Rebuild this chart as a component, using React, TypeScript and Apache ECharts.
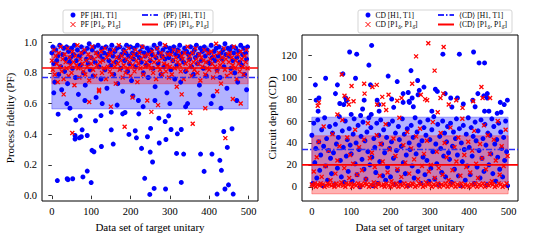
import React, { useEffect, useRef } from "react";
import * as echarts from "echarts";

// ---------- axes ----------
const X_TICKS = [0, 100, 200, 300, 400, 500];
const PF_TICKS = [0, 0.2, 0.4, 0.6, 0.8, 1.0];
const CD_TICKS = [0, 20, 40, 60, 80, 100, 120];
const X_RANGE = [-25, 524];
const PF_RANGE = [-0.035, 1.047];
const CD_RANGE = [-13, 138.5];
const DATASET_FIRST = 0;
const DATASET_LAST = 499;
const DENSE_STEP = 2.5; // data-set index spacing of the dense samples

// ---------- summary statistics (mean, std) ----------
const MEAN_PF = [0.77, 0.832];
const STD_PF = [0.205, 0.103];
const MEAN_CD = [34, 20];
const STD_CD = [29.5, 26.5];

// ---------- PF [H1, T1] ----------
const pfH1Dense = [
  0.93, 0.97, 0.86, 0.74, 0.95, 0.88, 0.91, 0.79, 0.98, 0.84, 0.69, 0.92, 0.96, 0.81, 0.89, 0.97, 0.73, 0.94, 0.87, 0.9,
  0.96, 0.83, 0.92, 0.98, 0.77, 0.88, 0.95, 0.66, 0.91, 0.85, 0.97, 0.93, 0.8, 0.94, 0.72, 0.89, 0.96, 0.86, 0.99, 0.82,
  0.9, 0.95, 0.78, 0.97, 0.87, 0.64, 0.93, 0.98, 0.84, 0.91, 0.76, 0.96, 0.89, 0.93, 0.82, 0.97, 0.7, 0.92, 0.88, 0.95,
  0.85, 0.98, 0.91, 0.79, 0.94, 0.87, 0.96, 0.73, 0.9, 0.97, 0.83, 0.92, 0.68, 0.95, 0.88, 0.93, 0.98, 0.81, 0.91, 0.86,
  0.97, 0.75, 0.93, 0.89, 0.96, 0.84, 0.92, 0.98, 0.62, 0.9, 0.94, 0.87, 0.97, 0.8, 0.93, 0.91, 0.85, 0.96, 0.77, 0.94,
  0.88, 0.95, 0.92, 0.83, 0.98, 0.71, 0.9, 0.96, 0.86, 0.93, 0.99, 0.79, 0.91, 0.95, 0.84, 0.89, 0.97, 0.67, 0.93, 0.9,
  0.96, 0.82, 0.94, 0.88, 0.97, 0.76, 0.92, 0.85, 0.95, 0.91, 0.98, 0.74, 0.89, 0.93, 0.87, 0.96, 0.81, 0.94, 0.6, 0.92,
  0.89, 0.97, 0.84, 0.93, 0.79, 0.95, 0.9, 0.98, 0.86, 0.92, 0.72, 0.96, 0.88, 0.94, 0.83, 0.97, 0.91, 0.78, 0.95, 0.87,
  0.93, 0.86, 0.98, 0.9, 0.65, 0.94, 0.88, 0.96, 0.82, 0.91, 0.97, 0.77, 0.93, 0.89, 0.95, 0.84, 0.99, 0.92, 0.7, 0.96,
  0.91, 0.95, 0.83, 0.97, 0.88, 0.93, 0.8, 0.96, 0.9, 0.74, 0.94, 0.87, 0.98, 0.85, 0.92, 0.96, 0.79, 0.93, 0.89, 0.97,
];
const pfH1Sparse = [
  [5, 0.67], [14, 0.098], [16, 0.531], [38, 0.6], [39, 0.11], [41, 0.104], [46, 0.57], [53, 0.11], [59, 0.392], [59, 0.369],
  [61, 0.492], [70, 0.377], [72, 0.518], [75, 0.384], [77, 0.429], [79, 0.122], [84, 0.62], [90, 0.392], [90, 0.16], [100, 0.085],
  [102, 0.295], [107, 0.286], [111, 0.488], [125, 0.522], [126, 0.32], [128, 0.6], [151, 0.544], [151, 0.429], [156, 0.336], [166, 0.59],
  [180, 0.533], [186, 0.542], [196, 0.399], [206, 0.65], [212, 0.423], [215, 0.377], [221, 0.533], [228, 0.308], [232, 0.58], [236, 0.113],
  [243, 0.384], [249, 0.008], [250, 0.284], [251, 0.438], [256, 0.219], [260, 0.047], [262, 0.62], [272, 0.505], [273, 0.343], [288, 0.483],
  [289, 0.043], [290, 0.366], [297, 0.52], [300, 0.6], [303, 0.431], [317, 0.275], [319, 0.403], [329, 0.431], [329, 0.086], [335, 0.271],
  [340, 0.58], [376, 0.66], [378, 0.271], [387, 0.158], [405, 0.6], [407, 0.271], [420, 0.01], [427, 0.23], [430, 0.57], [431, 0.165],
  [437, 0.418], [440, 0.043], [446, 0.314], [449, 0.07], [458, 0.436], [461, 0.01], [470, 0.62], [495, 0.69],
];

// ---------- PF [P1δ, P1δ̄] ----------
const pfP1Dense = [
  0.88, 0.82, 0.95, 0.79, 0.91, 0.86, 0.74, 0.93, 0.84, 0.97, 0.81, 0.89, 0.76, 0.92, 0.87, 0.83, 0.96, 0.78, 0.9, 0.85,
  0.8, 0.94, 0.87, 0.72, 0.91, 0.85, 0.98, 0.83, 0.77, 0.89, 0.93, 0.86, 0.81, 0.95, 0.79, 0.88, 0.84, 0.92, 0.75, 0.9,
  0.86, 0.97, 0.82, 0.89, 0.78, 0.93, 0.85, 0.91, 0.68, 0.87, 0.94, 0.8, 0.88, 0.83, 0.96, 0.76, 0.9, 0.84, 0.92, 0.81,
  0.93, 0.79, 0.87, 0.95, 0.84, 0.73, 0.9, 0.86, 0.98, 0.82, 0.88, 0.91, 0.77, 0.85, 0.94, 0.8, 0.89, 0.83, 0.96, 0.87,
  0.78, 0.9, 0.85, 0.92, 0.81, 0.95, 0.88, 0.74, 0.86, 0.93, 0.83, 0.89, 0.97, 0.79, 0.91, 0.84, 0.87, 0.62, 0.92, 0.85,
  0.89, 0.83, 0.94, 0.8, 0.87, 0.91, 0.76, 0.96, 0.84, 0.88, 0.82, 0.93, 0.79, 0.9, 0.86, 0.98, 0.81, 0.85, 0.92, 0.77,
  0.84, 0.92, 0.79, 0.88, 0.95, 0.83, 0.9, 0.71, 0.87, 0.94, 0.85, 0.81, 0.91, 0.89, 0.76, 0.93, 0.86, 0.82, 0.97, 0.88,
  0.91, 0.85, 0.78, 0.93, 0.87, 0.82, 0.96, 0.89, 0.8, 0.86, 0.92, 0.75, 0.9, 0.84, 0.88, 0.95, 0.79, 0.87, 0.83, 0.93,
  0.82, 0.89, 0.94, 0.86, 0.77, 0.91, 0.84, 0.99, 0.81, 0.88, 0.93, 0.85, 0.73, 0.9, 0.87, 0.96, 0.82, 0.89, 0.78, 0.92,
  0.87, 0.93, 0.8, 0.9, 0.85, 0.97, 0.83, 0.88, 0.76, 0.92, 0.86, 0.81, 0.94, 0.89, 0.84, 0.79, 0.91, 0.87, 0.95, 0.83,
];
const pfP1Sparse = [
  [30, 0.66], [52, 0.408], [95, 0.61], [120, 0.69], [150, 0.58], [185, 0.449], [205, 0.64], [253, 0.546], [270, 0.59],
  [330, 0.66], [352, 0.54], [358, 0.468], [390, 0.57], [420, 0.68], [441, 0.375], [460, 0.63], [480, 0.6],
];

// ---------- CD [H1, T1] ----------
const cdH1Dense = [
  47, 3, 58, 22, 35, 8, 61, 41, 15, 29, 52, 1, 37, 63, 19, 44, 6, 33, 55, 26,
  12, 49, 31, 2, 57, 39, 17, 45, 64, 24, 9, 51, 36, 4, 60, 28, 43, 14, 53, 38,
  30, 5, 48, 62, 21, 40, 11, 56, 34, 0, 46, 25, 59, 16, 42, 7, 50, 32, 63, 20,
  54, 27, 1, 44, 36, 13, 58, 3, 47, 23, 61, 39, 10, 52, 31, 6, 45, 18, 57, 35,
  9, 41, 60, 26, 2, 49, 33, 15, 55, 43, 4, 37, 62, 22, 48, 12, 29, 53, 1, 40,
  34, 56, 19, 45, 8, 63, 30, 50, 14, 38, 59, 3, 42, 27, 54, 11, 47, 24, 61, 5,
  43, 17, 52, 32, 64, 7, 39, 21, 57, 2, 46, 35, 13, 60, 28, 49, 9, 41, 55, 31,
  25, 58, 4, 37, 50, 16, 44, 62, 29, 10, 53, 1, 40, 23, 56, 34, 6, 48, 19, 63,
  36, 11, 54, 28, 46, 3, 59, 42, 18, 51, 33, 8, 61, 26, 44, 14, 57, 38, 2, 49,
  20, 47, 30, 62, 12, 55, 39, 5, 43, 27, 58, 16, 50, 35, 9, 45, 24, 60, 32, 1,
];
const cdH1Sparse = [
  [9, 93], [11, 79], [16, 69], [18, 81], [35, 99], [60, 85], [65, 93], [71, 76], [79, 103], [81, 75],
  [86, 81], [88, 78.5], [96, 123], [100, 66], [111, 99], [114, 121], [124, 65], [129, 71], [133, 79], [145, 111],
  [149, 93], [151, 66], [152, 129], [166, 79], [170, 75], [171, 69], [194, 101], [203, 80], [208, 72.5], [217, 96],
  [232, 85], [232, 77], [245, 86], [247, 78], [248, 77], [252, 106], [255, 81], [258, 73], [269, 97], [270, 84],
  [273, 88], [285, 91], [305, 69], [314, 89], [319, 87], [333, 121], [339, 85], [353, 81], [356, 72.8], [370, 81],
  [375, 121], [385, 75.5], [409, 79], [411, 123], [415, 73], [422, 85], [425, 113], [437, 83], [439, 113], [439, 69],
  [446, 85], [446, 81], [450, 69], [471, 67], [479, 77], [481, 68], [489, 75], [497, 79],
];

// ---------- CD [P1δ, P1δ̄] ----------
const cdP1Dense = [
  2, 1, 14, 3, 0, 27, 2, 41, 1, 3, 9, 2, 55, 0, 19, 1, 3, 33, 2, 6,
  1, 48, 2, 0, 12, 3, 24, 1, 37, 2, 4, 61, 1, 17, 0, 3, 45, 2, 8, 29,
  3, 0, 21, 2, 52, 1, 11, 3, 36, 0, 2, 15, 1, 43, 3, 7, 2, 58, 0, 26,
  2, 31, 1, 4, 18, 0, 47, 3, 2, 10, 39, 1, 23, 2, 0, 57, 3, 13, 1, 34,
  0, 5, 2, 44, 1, 28, 3, 16, 0, 63, 2, 9, 1, 38, 3, 22, 0, 50, 2, 12,
  1, 35, 3, 2, 25, 0, 46, 1, 7, 3, 53, 2, 19, 0, 30, 1, 4, 42, 2, 14,
  3, 20, 0, 59, 2, 8, 1, 32, 3, 17, 0, 49, 2, 11, 1, 40, 3, 27, 0, 6,
  2, 54, 1, 15, 3, 36, 0, 23, 2, 45, 1, 10, 3, 62, 0, 29, 2, 18, 1, 41,
  0, 13, 2, 33, 1, 51, 3, 21, 0, 8, 2, 39, 1, 26, 3, 56, 0, 16, 2, 47,
  1, 30, 3, 5, 2, 43, 0, 24, 1, 60, 3, 11, 2, 37, 0, 19, 1, 52, 3, 28,
];
const cdP1Sparse = [
  [15, 74], [18, 77], [65, 66], [76, 102.4], [83, 83], [92, 80], [94, 75], [101, 92], [106, 78], [133, 94],
  [134, 85], [154, 91], [165, 93], [166, 75], [179, 82], [182, 75], [189, 70], [195, 84], [217, 78.5], [228, 81],
  [255, 94], [265, 119], [277, 84], [288, 80], [293, 79], [296, 131], [312, 106], [320, 68], [327, 81], [334, 85],
  [335, 127.5], [348, 75], [367, 79], [383, 72], [410, 78], [431, 91], [434, 81], [453, 81],
];

// ---------- names ----------
const N_PF_H1 = "PF [H1, T1]";
const N_PF_P1 = "PF [P1δ, P1δ̄]";
const N_PFM_H1 = "⟨PF⟩ [H1, T1]";
const N_PFM_P1 = "⟨PF⟩ [P1δ, P1δ̄]";
const N_CD_H1 = "CD [H1, T1]";
const N_CD_P1 = "CD [P1δ, P1δ̄]";
const N_CDM_H1 = "⟨CD⟩ [H1, T1]";
const N_CDM_P1 = "⟨CD⟩ [P1δ, P1δ̄]";

const FONT = "'Liberation Serif', 'DejaVu Serif', serif";
const BLUE = "#0000ff";
const RED = "#ff0000";
const X_ICON = "path://M0,0L10,10M10,0L0,10";
const HIDDEN_SYMBOL = { color: "rgba(0,0,0,0)", borderColor: "rgba(0,0,0,0)", borderWidth: 0, opacity: 0 };

function points(dense: number[], sparse: number[][]) {
  return dense.map((v, i) => [i * DENSE_STEP, v]).concat(sparse);
}

function band(grid: number, lo: number, hi: number, fill: string, edge: string, z: number) {
  return {
    type: "custom",
    xAxisIndex: grid,
    yAxisIndex: grid,
    z,
    silent: true,
    data: [[DATASET_FIRST, DATASET_LAST, lo, hi]],
    renderItem: (_p: any, api: any) => {
      const a = api.coord([api.value(0), api.value(3)]);
      const b = api.coord([api.value(1), api.value(2)]);
      return {
        type: "rect",
        shape: { x: a[0], y: a[1], width: b[0] - a[0], height: b[1] - a[1] },
        style: { fill, stroke: edge, lineWidth: 1 },
      };
    },
  };
}

function scatterBlue(grid: number, name: string, data: number[][]) {
  return {
    type: "scatter",
    name,
    xAxisIndex: grid,
    yAxisIndex: grid,
    z: 3,
    symbol: "circle",
    symbolSize: 5,
    itemStyle: { color: BLUE, opacity: 1 },
    data,
  };
}

function scatterRed(grid: number, name: string, data: number[][]) {
  return {
    type: "scatter",
    name,
    xAxisIndex: grid,
    yAxisIndex: grid,
    z: 4,
    symbol: X_ICON,
    symbolSize: 4,
    itemStyle: { color: RED, borderColor: RED, borderWidth: 1.3, opacity: 1 },
    data,
  };
}

function meanLine(grid: number, name: string, value: number, color: string, dash: any) {
  return {
    type: "line",
    name,
    xAxisIndex: grid,
    yAxisIndex: grid,
    z: 5,
    symbol: "none",
    silent: true,
    itemStyle: { color },
    lineStyle: { color, width: 1.6, type: dash },
    data: [
      [X_RANGE[0], value],
      [X_RANGE[1], value],
    ],
  };
}

function xAxis(grid: number) {
  return {
    type: "value",
    gridIndex: grid,
    min: X_RANGE[0],
    max: X_RANGE[1],
    splitLine: { show: false },
    axisLine: { show: false },
    axisTick: { show: true, length: 3.5, lineStyle: { color: "#000", width: 0.8 }, customValues: X_TICKS },
    axisLabel: { customValues: X_TICKS, color: "#000", fontFamily: FONT, fontSize: 10.5, margin: 5 },
    name: "Data set of target unitary",
    nameLocation: "middle",
    nameGap: 19,
    nameTextStyle: { color: "#000", fontFamily: FONT, fontSize: 11 },
  };
}

function yAxis(grid: number, range: number[], ticks: number[], name: string, digits: number, gap: number) {
  return {
    type: "value",
    gridIndex: grid,
    min: range[0],
    max: range[1],
    splitLine: { show: false },
    axisLine: { show: false },
    axisTick: { show: true, length: 3.5, lineStyle: { color: "#000", width: 0.8 }, customValues: ticks },
    axisLabel: {
      customValues: ticks,
      color: "#000",
      fontFamily: FONT,
      fontSize: 10.5,
      margin: 5,
      formatter: (v: number) => v.toFixed(digits),
    },
    name,
    nameLocation: "middle",
    nameGap: gap,
    nameTextStyle: { color: "#000", fontFamily: FONT, fontSize: 11 },
  };
}

const legendText = {
  color: "#000",
  fontFamily: FONT,
  fontSize: 7.5,
  rich: { s: { fontFamily: FONT, fontSize: 5.5, padding: [4, 0, 0, 0], color: "#000" } },
};
const legendFormatter = (n: string) => n.replace(/P1(δ\u0304?)/g, "P1{s|$1}");

function legend(left: number, names: any[], iw: number, ih: number) {
  return {
    left,
    top: 11,
    orient: "vertical",
    itemGap: 1.5,
    itemWidth: iw,
    itemHeight: ih,
    selectedMode: false,
    padding: 0,
    textStyle: legendText,
    formatter: legendFormatter,
    data: names,
  };
}

function buildOption() {
  return {
    animation: false,
    backgroundColor: "#fff",
    grid: [
      { left: 42, top: 35, width: 216, height: 166, show: true, borderColor: "#000", borderWidth: 1, backgroundColor: "transparent" },
      { left: 302, top: 35, width: 216, height: 166, show: true, borderColor: "#000", borderWidth: 1, backgroundColor: "transparent" },
    ],
    graphic: [
      { type: "rect", z: 0, shape: { x: 63, y: 10, width: 150, height: 23, r: 2 }, style: { fill: "#fff", stroke: "#d5d5d5", lineWidth: 1 } },
      { type: "rect", z: 0, shape: { x: 358, y: 10, width: 154, height: 23, r: 2 }, style: { fill: "#fff", stroke: "#d5d5d5", lineWidth: 1 } },
    ],
    legend: [
      legend(70, [
        { name: N_PF_H1, icon: "circle" },
        { name: N_PF_P1, icon: X_ICON, itemStyle: { borderWidth: 1 } },
      ], 5, 5),
      legend(141, [
        { name: N_PFM_H1, itemStyle: HIDDEN_SYMBOL },
        { name: N_PFM_P1, itemStyle: HIDDEN_SYMBOL },
      ], 16, 5),
      legend(365, [
        { name: N_CD_H1, icon: "circle" },
        { name: N_CD_P1, icon: X_ICON, itemStyle: { borderWidth: 1 } },
      ], 5, 5),
      legend(437, [
        { name: N_CDM_H1, itemStyle: HIDDEN_SYMBOL },
        { name: N_CDM_P1, itemStyle: HIDDEN_SYMBOL },
      ], 16, 5),
    ],
    xAxis: [xAxis(0), xAxis(1)],
    yAxis: [
      yAxis(0, PF_RANGE, PF_TICKS, "Process fidelity (PF)", 1, 27),
      yAxis(1, CD_RANGE, CD_TICKS, "Circuit depth (CD)", 0, 23),
    ],
    series: [
      band(0, MEAN_PF[0] - STD_PF[0], MEAN_PF[0] + STD_PF[0], "rgba(0,0,255,0.3)", "rgba(0,0,255,0.3)", 1),
      band(0, MEAN_PF[1] - STD_PF[1], MEAN_PF[1] + STD_PF[1], "rgba(255,0,0,0.3)", "rgba(255,0,0,0.3)", 2),
      scatterBlue(0, N_PF_H1, points(pfH1Dense, pfH1Sparse)),
      scatterRed(0, N_PF_P1, points(pfP1Dense, pfP1Sparse)),
      meanLine(0, N_PFM_H1, MEAN_PF[0], "#2a2aff", [6, 2, 1.5, 2]),
      meanLine(0, N_PFM_P1, MEAN_PF[1], RED, "solid"),
      band(1, MEAN_CD[0] - STD_CD[0], MEAN_CD[0] + STD_CD[0], "rgba(0,0,255,0.3)", "rgba(0,0,255,0.3)", 1),
      band(1, MEAN_CD[1] - STD_CD[1], MEAN_CD[1] + STD_CD[1], "rgba(255,0,0,0.3)", "rgba(255,0,0,0.3)", 2),
      scatterBlue(1, N_CD_H1, points(cdH1Dense, cdH1Sparse)),
      scatterRed(1, N_CD_P1, points(cdP1Dense, cdP1Sparse)),
      meanLine(1, N_CDM_H1, MEAN_CD[0], "#2a2aff", [6, 2, 1.5, 2]),
      meanLine(1, N_CDM_P1, MEAN_CD[1], RED, "solid"),
    ],
  };
}

export default function App() {
  const ref = useRef<HTMLDivElement>(null);
  useEffect(() => {
    const chart = echarts.init(ref.current!, null, { renderer: "svg" });
    chart.setOption(buildOption() as any);
    return () => chart.dispose();
  }, []);
  return (
    <div
      ref={ref}
      style={{ position: "fixed", left: 0, top: 0, width: 540, height: 240, background: "#fff" }}
    />
  );
}
